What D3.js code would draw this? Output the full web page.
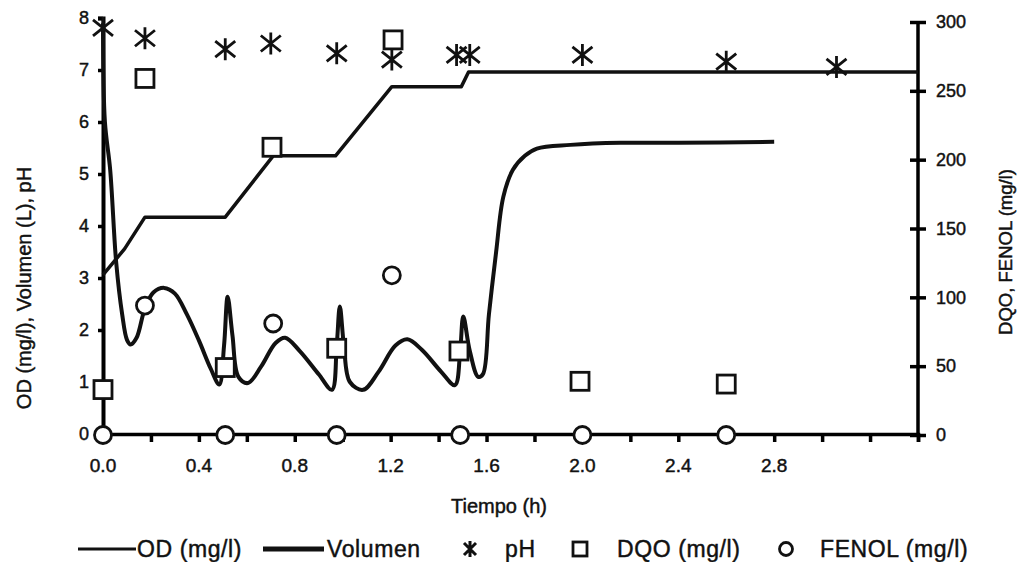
<!DOCTYPE html>
<html>
<head>
<meta charset="utf-8">
<script src="https://cdn.jsdelivr.net/npm/d3@7"></script>
<style>
  body { margin: 0; background: #fff; }
  text { font-family: "Liberation Sans", Arial, sans-serif; fill: #111; stroke: #111; stroke-width: 0.45px; }
</style>
</head>
<body>
<svg id="chart" width="1018" height="562"></svg>
<script>
// OD (mg/l) trace
var odTime = [0, 0.008, 0.03, 0.055, 0.08, 0.1, 0.115, 0.14, 0.175, 0.21, 0.255, 0.3, 0.35, 0.4, 0.45, 0.485,
    0.505, 0.52, 0.54, 0.565, 0.605, 0.66, 0.72, 0.76, 0.82, 0.9, 0.955, 0.975, 0.988, 1.005, 1.03, 1.085,
    1.15, 1.22, 1.27, 1.33, 1.41, 1.468, 1.49, 1.503, 1.53, 1.565, 1.585, 1.61, 1.64, 1.67, 1.71, 1.76,
    1.81, 1.95, 2.16, 2.4, 2.8];
var odValue = [7.9, 6.0, 5.08, 3.3, 2.3, 1.81, 1.72, 1.85, 2.42, 2.72, 2.81, 2.7, 2.3, 1.8, 1.25, 0.95,
    1.7, 2.64, 1.9, 1.1, 0.98, 1.3, 1.75, 1.85, 1.6, 1.15, 0.85, 1.7, 2.45, 1.7, 1.0, 0.85,
    1.2, 1.7, 1.82, 1.62, 1.2, 0.94, 1.6, 2.26, 1.6, 1.1, 1.15, 2.3, 3.5, 4.56, 5.08, 5.35,
    5.49, 5.56, 5.6, 5.6, 5.62];

// Volumen (L)
var volTime = [0, 0.09, 0.175, 0.51, 0.71, 0.97, 1.205, 1.495, 1.525, 3.4];
var volValue = [3.06, 3.56, 4.17, 4.17, 5.35, 5.35, 6.68, 6.68, 6.96, 6.96];

// pH
var phTime = [0, 0.175, 0.51, 0.7, 0.975, 1.205, 1.475, 1.53, 2.0, 2.6, 3.06];
var phValue = [7.81, 7.61, 7.4, 7.51, 7.32, 7.2, 7.29, 7.29, 7.29, 7.16, 7.06];

// DQO (mg/l), right axis
var dqoTime = [0, 0.175, 0.51, 0.705, 0.975, 1.21, 1.485, 1.99, 2.6];
var dqoValue = [33, 259, 49, 209, 63, 287, 61, 39, 37];

// FENOL (mg/l), right axis
var fenolTime = [0, 0.175, 0.51, 0.71, 0.975, 1.205, 1.49, 2.0, 2.6];
var fenolValue = [0, 94, 0, 81, 0, 116, 0, 0, 0];

var xTickLabels = [0, 0.4, 0.8, 1.2, 1.6, 2.0, 2.4, 2.8];
var leftTicks = [0, 1, 2, 3, 4, 5, 6, 7, 8];
var rightTicks = [0, 50, 100, 150, 200, 250, 300];

var svg = d3.select('#chart');

var x = d3.scaleLinear().domain([0, 3.4]).range([103, 918]);
var yL = d3.scaleLinear().domain([0, 8]).range([434, 18]);
var yR = d3.scaleLinear().domain([0, 300]).range([435, 22]);

function zip(ts, vs) {
    return ts.map(function(t, i) { return {t: t, v: vs[i]}; });
}

var asterisk = 'M0,-11L0,11M-10,-8L10,8M-10,8L10,-8';

// axes
var axes = svg.append('g').attr('class', 'axes');

var xAxis = d3.axisBottom(x)
    .tickValues(d3.range(0, 3.41, 0.2))
    .tickSize(8)
    .tickFormat('');
axes.append('g')
    .attr('transform', 'translate(0,' + yL(0) + ')')
    .call(xAxis)
    .call(function(g) {
        g.select('.domain').attr('stroke-width', 3.5);
        g.selectAll('.tick line').attr('stroke-width', 3.5);
    });
axes.selectAll('text.xlab')
    .data(xTickLabels)
  .enter().append('text')
    .attr('class', 'xlab')
    .attr('x', function(d) { return x(d); })
    .attr('y', 472)
    .attr('text-anchor', 'middle')
    .style('font-size', '19px')
    .text(function(d) { return d.toFixed(1); });

var yLeftAxis = d3.axisLeft(yL)
    .tickValues(leftTicks)
    .tickSize(5)
    .tickPadding(9)
    .tickFormat(d3.format('d'));
axes.append('g')
    .attr('transform', 'translate(' + x(0) + ',0)')
    .call(yLeftAxis)
    .call(function(g) {
        g.select('.domain').attr('stroke-width', 4);
        g.selectAll('.tick line').attr('stroke-width', 3.5);
        g.selectAll('.tick text').style('font-size', '18px')
            .style('font-family', '"Liberation Sans", Arial, sans-serif');
    });

var yRightAxis = d3.axisRight(yR)
    .tickValues(rightTicks)
    .tickSize(8)
    .tickPadding(10)
    .tickFormat(d3.format('d'));
axes.append('g')
    .attr('transform', 'translate(' + x(3.4) + ',0)')
    .call(yRightAxis)
    .call(function(g) {
        g.select('.domain').attr('stroke-width', 3.5).attr('d', 'M0,' + yR(300) + 'V' + yR(0));
        g.selectAll('.tick line').attr('stroke-width', 3.5).attr('x1', -8);
        g.selectAll('.tick text').style('font-size', '18px')
            .style('font-family', '"Liberation Sans", Arial, sans-serif');
    });

// axis titles
svg.append('text')
    .attr('transform', 'translate(31,288) rotate(-90)')
    .attr('text-anchor', 'middle')
    .style('font-size', '20px')
    .text('OD (mg/l), Volumen (L), pH');
svg.append('text')
    .attr('transform', 'translate(1012,252) rotate(-90)')
    .attr('text-anchor', 'middle')
    .style('font-size', '18.5px')
    .text('DQO, FENOL (mg/l)');
svg.append('text')
    .attr('x', 499)
    .attr('y', 513)
    .attr('text-anchor', 'middle')
    .style('font-size', '20px')
    .text('Tiempo (h)');

// lines
var odLine = d3.line()
    .x(function(d) { return x(d.t); })
    .y(function(d) { return yL(d.v); })
    .curve(d3.curveCatmullRom.alpha(0.5));
var volLine = d3.line()
    .x(function(d) { return x(d.t); })
    .y(function(d) { return yL(d.v); });

svg.append('path')
    .datum(zip(volTime, volValue))
    .attr('d', volLine)
    .attr('fill', 'none')
    .attr('stroke', '#111')
    .attr('stroke-width', 3.5)
    .attr('stroke-linejoin', 'round');
svg.append('path')
    .datum(zip(odTime, odValue))
    .attr('d', odLine)
    .attr('fill', 'none')
    .attr('stroke', '#111')
    .attr('stroke-width', 4)
    .attr('stroke-linejoin', 'round');

// markers
svg.selectAll('circle.fenol')
    .data(zip(fenolTime, fenolValue))
  .enter().append('circle')
    .attr('class', 'fenol')
    .attr('cx', function(d) { return x(d.t); })
    .attr('cy', function(d) { return yR(d.v); })
    .attr('r', 8.5)
    .attr('fill', '#fff')
    .attr('stroke', '#111')
    .attr('stroke-width', 2.8);

svg.selectAll('rect.dqo')
    .data(zip(dqoTime, dqoValue))
  .enter().append('rect')
    .attr('class', 'dqo')
    .attr('x', function(d) { return x(d.t) - 9; })
    .attr('y', function(d) { return yR(d.v) - 9; })
    .attr('width', 18)
    .attr('height', 18)
    .attr('fill', '#fff')
    .attr('stroke', '#111')
    .attr('stroke-width', 2.8);

svg.selectAll('path.ph')
    .data(zip(phTime, phValue))
  .enter().append('path')
    .attr('class', 'ph')
    .attr('d', asterisk)
    .attr('transform', function(d) { return 'translate(' + x(d.t) + ',' + yL(d.v) + ')'; })
    .attr('fill', 'none')
    .attr('stroke', '#111')
    .attr('stroke-width', 2.8);

// legend
var lg = svg.append('g').attr('class', 'legend');
var ly = 549;
lg.append('line').attr('x1', 78).attr('x2', 136).attr('y1', ly).attr('y2', ly)
    .attr('stroke', '#111').attr('stroke-width', 3);
lg.append('line').attr('x1', 263).attr('x2', 324).attr('y1', ly).attr('y2', ly)
    .attr('stroke', '#111').attr('stroke-width', 5);
lg.append('path').attr('d', 'M0,-8L0,8M-6,-6L6,6M-6,6L6,-6')
    .attr('transform', 'translate(470,' + ly + ')')
    .attr('fill', 'none').attr('stroke', '#111').attr('stroke-width', 3);
lg.append('rect').attr('x', 573).attr('y', ly - 7).attr('width', 14).attr('height', 14)
    .attr('fill', '#fff').attr('stroke', '#111').attr('stroke-width', 2.8);
lg.append('circle').attr('cx', 786).attr('cy', ly).attr('r', 6.5)
    .attr('fill', '#fff').attr('stroke', '#111').attr('stroke-width', 2.8);

var legendText = [
    {x: 137, s: 'OD (mg/l)'},
    {x: 327, s: 'Volumen'},
    {x: 505, s: 'pH'},
    {x: 617, s: 'DQO (mg/l)'},
    {x: 820, s: 'FENOL (mg/l)'}
];
lg.selectAll('text')
    .data(legendText)
  .enter().append('text')
    .attr('x', function(d) { return d.x; })
    .attr('y', 557)
    .style('font-size', '23px')
    .style('letter-spacing', '0.6px')
    .text(function(d) { return d.s; });
</script>
</body>
</html>
